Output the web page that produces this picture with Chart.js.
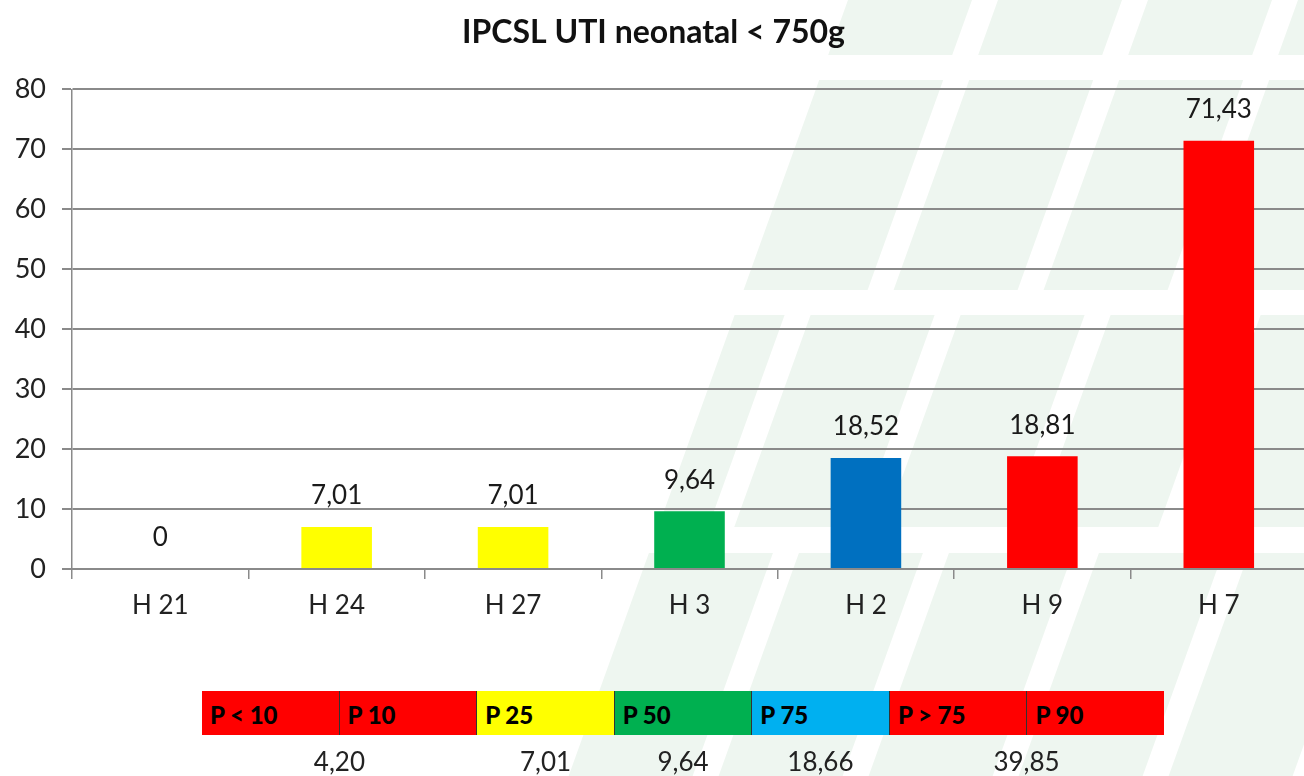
<!DOCTYPE html>
<html>
<head>
<meta charset="utf-8">
<script src="https://cdn.jsdelivr.net/npm/chart.js@4/dist/chart.umd.min.js"></script>
<style>
    html, body { margin: 0; padding: 0; background: #fff; }
    #wrap { position: relative; width: 1304px; height: 776px; overflow: hidden; font-family: Lato, sans-serif; }
    #chart { position: absolute; left: 0; top: 0; }
    #pct { position: absolute; left: 202px; top: 691px; width: 962px; height: 44px; display: flex; }
    #pct div { flex: 1; box-sizing: border-box; font-weight: 900; font-size: 24px; color: #000;
               padding: 10px 0 0 8px; border-right: 1px solid #333; line-height: 1.2; }
    #pct div:last-child { border-right: none; }
    #pctVals span { position: absolute; top: 745px; font-size: 26px; color: #222; transform: translateX(-50%); }
</style>
</head>
<body>
<div id="wrap">
    <canvas id="chart" width="1307" height="776"></canvas>
    <div id="pct"></div>
    <div id="pctVals"></div>
</div>
<script>
const categories = ['H 21', 'H 24', 'H 27', 'H 3', 'H 2', 'H 9', 'H 7'];
const rates = [0, 7.01, 7.01, 9.64, 18.52, 18.81, 71.43];
const barColors = ['#ffffff', '#ffff00', '#ffff00', '#00b050', '#0070c0', '#ff0000', '#ff0000'];
const yTicks = [0, 10, 20, 30, 40, 50, 60, 70, 80];

const pctLabels = ['P < 10', 'P 10', 'P 25', 'P 50', 'P 75', 'P > 75', 'P 90'];
const pctColors = ['#ff0000', '#ff0000', '#ffff00', '#00b050', '#00b0f0', '#ff0000', '#ff0000'];
const pctValues = ['4,20', '7,01', '9,64', '18,66', '39,85'];
// where each value sits along the strip, in cell units
const pctSlots = [1, 2.5, 3.5, 4.5, 6];

const fmt = v => String(v).replace('.', ',');

// percentile strip under the chart
const strip = document.getElementById('pct');
pctLabels.forEach((t, i) => {
    const d = document.createElement('div');
    d.textContent = t;
    d.style.background = pctColors[i];
    strip.appendChild(d);
});
const cellW = 962 / pctLabels.length;
const vals = document.getElementById('pctVals');
pctValues.forEach((t, i) => {
    const s = document.createElement('span');
    s.textContent = t;
    s.style.left = (202 + pctSlots[i] * cellW) + 'px';
    vals.appendChild(s);
});

// faint green watermark tiles behind everything
const watermark = {
    id: 'watermark',
    beforeDraw(chart) {
        const ctx = chart.ctx;
        const slant = 0.36, edge = 848, period = 150, gap = 26;
        const rows = [[0, 55, 972], [80, 290, 972], [315, 527, 1048], [553, 776, 972]];
        ctx.save();
        ctx.fillStyle = '#eef6f0';
        rows.forEach(([y1, y2, g0]) => {
            let g = g0;
            while (g - period > edge) g -= period;
            let left = edge;
            for (; left < 1600; g += period) {
                const right = g;
                ctx.beginPath();
                ctx.moveTo(left - slant * y1, y1);
                ctx.lineTo(right - slant * y1, y1);
                ctx.lineTo(right - slant * y2, y2);
                ctx.lineTo(left - slant * y2, y2);
                ctx.closePath();
                ctx.fill();
                left = g + gap;
            }
        });
        ctx.restore();
    }
};

const valueLabels = {
    id: 'valueLabels',
    afterDatasetsDraw(chart) {
        const ctx = chart.ctx;
        const meta = chart.getDatasetMeta(0);
        ctx.save();
        ctx.font = '26px Lato';
        ctx.fillStyle = '#1a1a1a';
        ctx.textAlign = 'center';
        ctx.textBaseline = 'middle';
        meta.data.forEach((bar, i) => {
            ctx.fillText(fmt(rates[i]), bar.x, bar.y - 31);
        });
        ctx.restore();
    }
};

new Chart(document.getElementById('chart'), {
    type: 'bar',
    data: {
        labels: categories,
        datasets: [{
            data: rates,
            backgroundColor: barColors,
            borderWidth: 0,
            categoryPercentage: 1,
            barPercentage: 0.4
        }]
    },
    options: {
        responsive: false,
        animation: false,
        layout: { padding: 0 },
        plugins: {
            legend: { display: false },
            tooltip: { enabled: false },
            title: {
                display: true,
                text: 'IPCSL UTI neonatal < 750g',
                color: '#111',
                font: { family: 'Lato', size: 32, weight: 'bold' },
                padding: { top: 13, bottom: 38 }
            }
        },
        scales: {
            x: {
                grid: { display: true, drawOnChartArea: false, color: '#8a8a8a', lineWidth: 1.5, tickLength: 10 },
                border: { color: '#8a8a8a', width: 2 },
                ticks: { color: '#222', font: { family: 'Lato', size: 26 }, padding: 11 },
                afterFit(scale) { scale.height = 207; }
            },
            y: {
                min: 0,
                max: 80,
                afterBuildTicks(scale) { scale.ticks = yTicks.map(v => ({ value: v })); },
                grid: { color: '#8a8a8a', lineWidth: 2, tickLength: 10 },
                border: { color: '#8a8a8a', width: 1.5 },
                ticks: { color: '#222', font: { family: 'Lato', size: 27 }, padding: 16 },
                afterFit(scale) { scale.width = 72; }
            }
        }
    },
    plugins: [watermark, valueLabels]
});
</script>
</body>
</html>
